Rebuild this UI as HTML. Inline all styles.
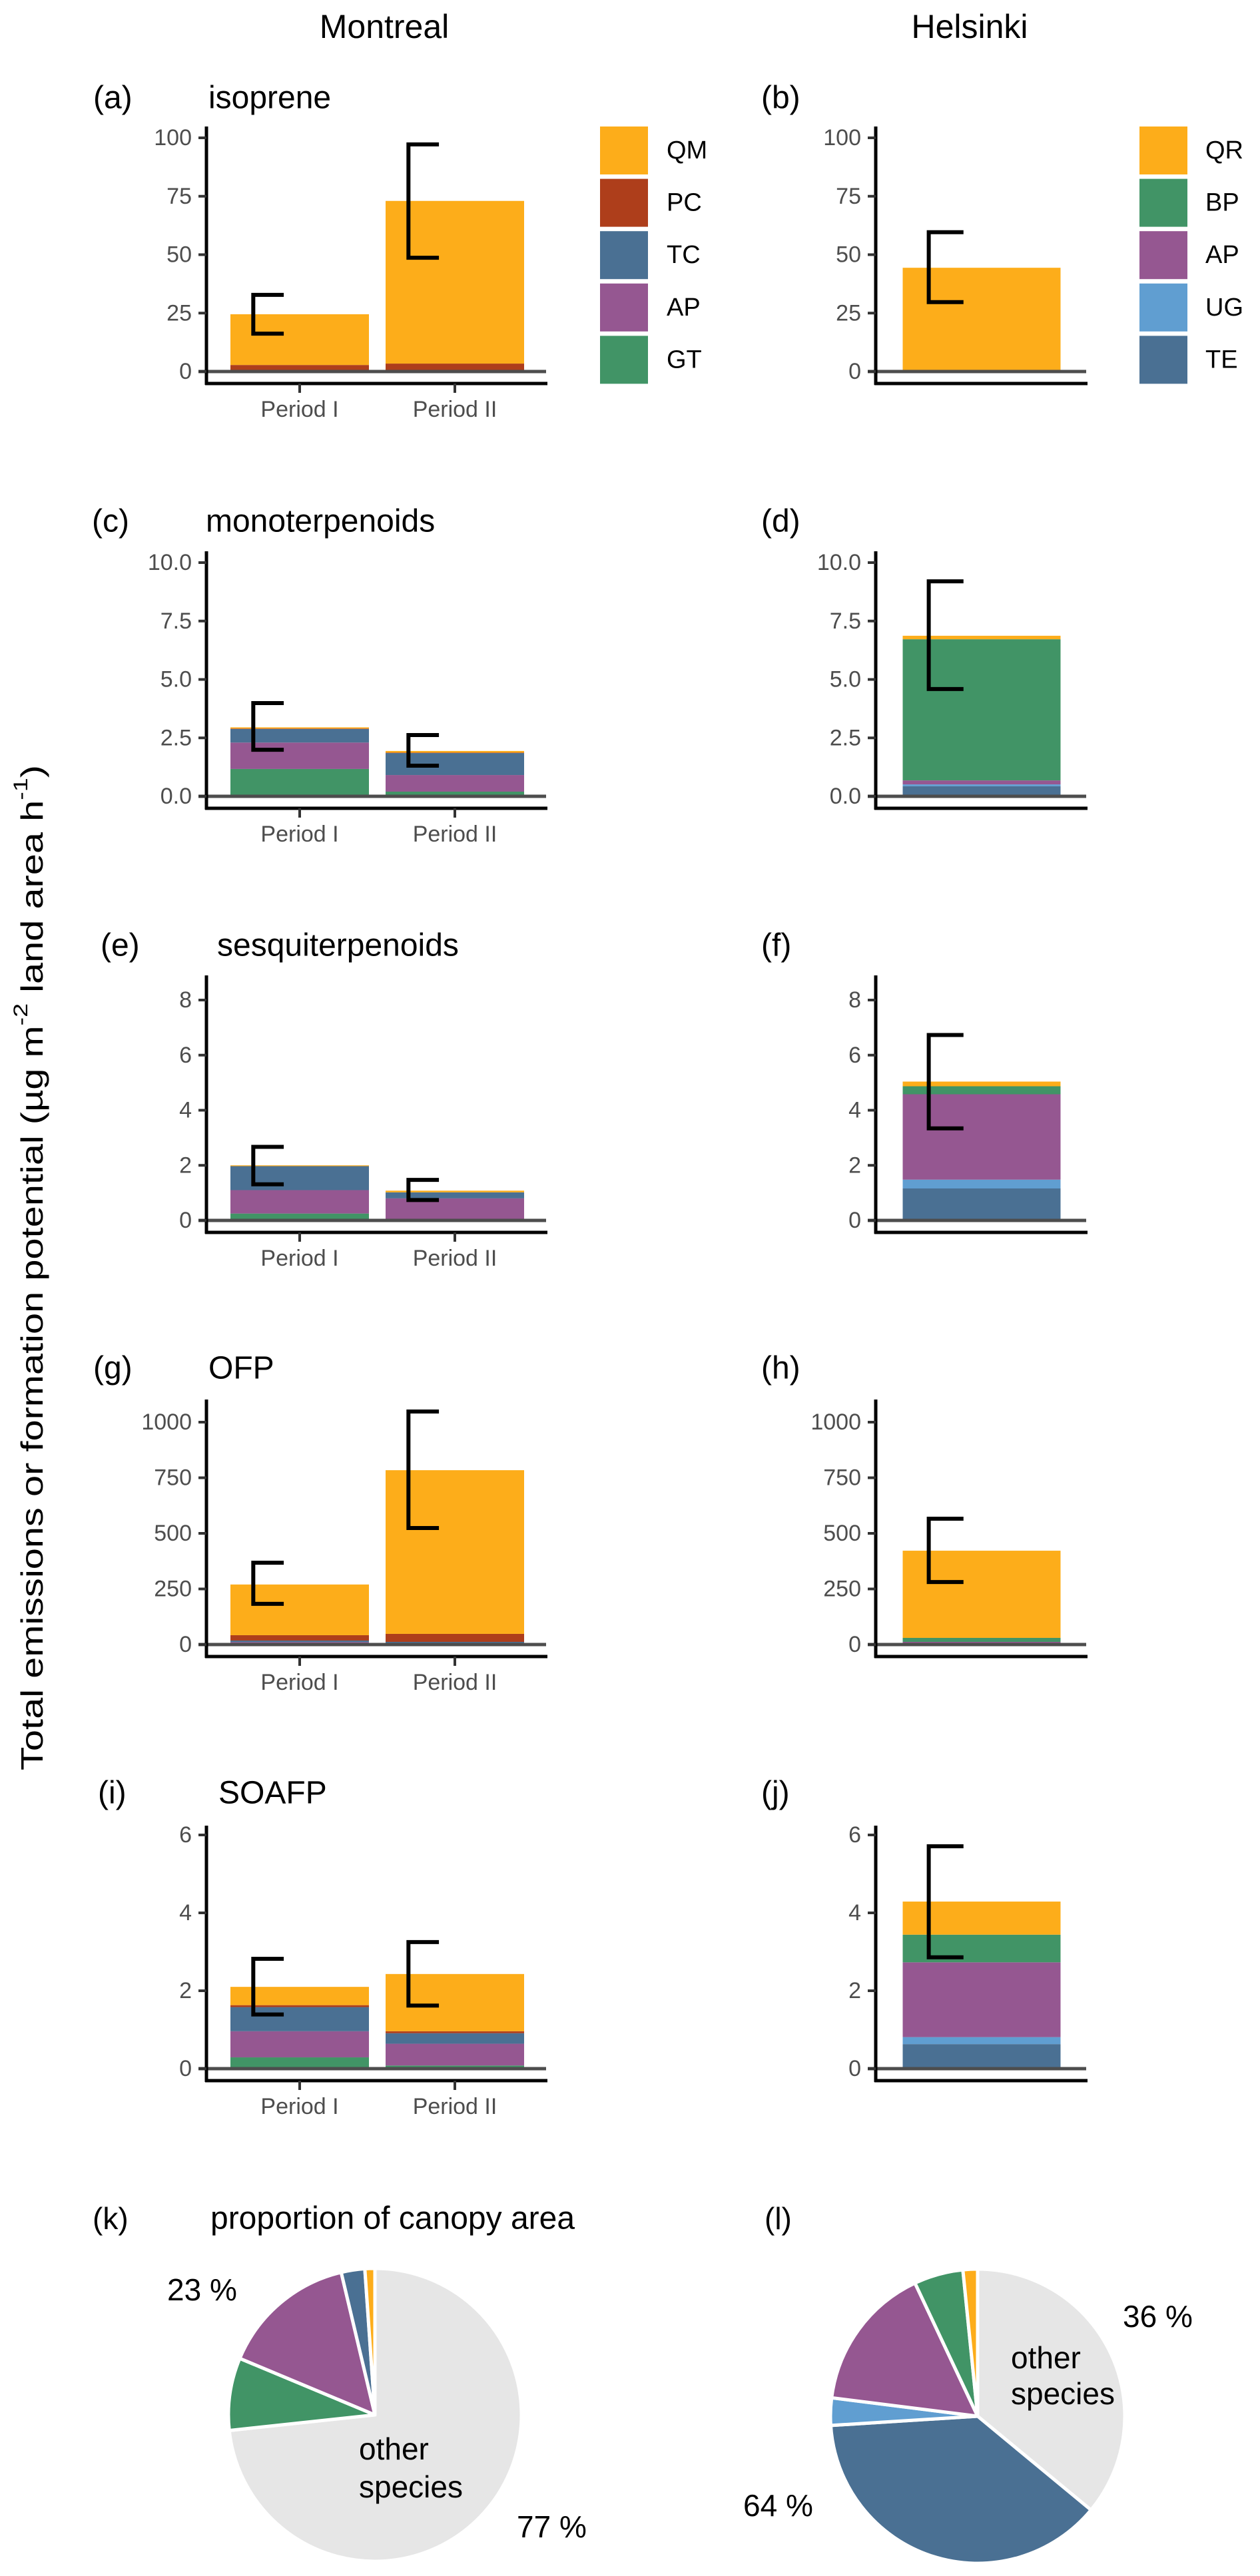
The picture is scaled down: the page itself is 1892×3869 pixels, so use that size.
<!DOCTYPE html>
<html><head><meta charset="utf-8"><title>BVOC emissions</title>
<style>html,body{margin:0;padding:0;background:#fff}svg{display:block}text{font-family:"Liberation Sans",Arial,sans-serif}</style>
</head><body>
<svg id="fig" xmlns="http://www.w3.org/2000/svg" width="1892" height="3869" viewBox="0 0 1892 3869">
<rect width="1892" height="3869" fill="#fff"/>
<text x="577" y="40" font-size="50" text-anchor="middle" dominant-baseline="central">Montreal</text>
<text x="1456" y="40" font-size="50" text-anchor="middle" dominant-baseline="central">Helsinki</text>
<text transform="translate(48,1904) rotate(-90)" font-size="46" text-anchor="middle" dominant-baseline="central" textLength="1510" lengthAdjust="spacingAndGlyphs">Total emissions or formation potential (µg m<tspan baseline-shift="super" font-size="30">-2</tspan> land area h<tspan baseline-shift="super" font-size="30">-1</tspan>)</text>
</svg>
<script>
// ---------- data ----------
const periods = ["Period I", "Period II"];
const mtlSpecies = ["GT", "AP", "TC", "PC", "QM"];          // bottom -> top
const helSpecies = ["TE", "UG", "AP", "BP", "QR"];          // bottom -> top
const mtlLegend = ["QM", "PC", "TC", "AP", "GT"];
const helLegend = ["QR", "BP", "AP", "UG", "TE"];

// Montreal stacked segment values per species [Period I, Period II]
const isopreneMtl = [[0, 0], [0, 0], [0, 0], [2.8, 3.4], [21.7, 69.6]];
const monoMtl = [[1.17, 0.2], [1.13, 0.71], [0.58, 0.94], [0.02, 0.02], [0.05, 0.07]];
const sesqMtl = [[0.25, 0.04], [0.85, 0.76], [0.87, 0.22], [0, 0], [0.03, 0.06]];
const ofpMtl = [[3, 2], [8, 4], [7, 6], [24, 36], [228, 736]];
const soafpMtl = [[0.29, 0.08], [0.67, 0.56], [0.62, 0.27], [0.05, 0.05], [0.47, 1.47]];
// Helsinki stacked segment values per species
const isopreneHel = [0, 0, 0, 0, 44.4];
const monoHel = [0.43, 0.08, 0.17, 6.04, 0.15];
const sesqHel = [1.16, 0.32, 3.1, 0.29, 0.17];
const ofpHel = [3, 2, 7, 18, 392];
const soafpHel = [0.63, 0.18, 1.92, 0.71, 0.85];
// error ranges [low, high]
const isopreneMtlErr = [[16.2, 32.8], [48.7, 97.2]];
const monoMtlErr = [[1.99, 3.99], [1.31, 2.62]];
const sesqMtlErr = [[1.31, 2.67], [0.74, 1.47]];
const ofpMtlErr = [[183, 368], [524, 1048]];
const soafpMtlErr = [[1.39, 2.82], [1.62, 3.25]];
const isopreneHelErr = [29.7, 59.6];
const monoHelErr = [4.59, 9.2];
const sesqHelErr = [3.34, 6.73];
const ofpHelErr = [281, 566];
const soafpHelErr = [2.86, 5.71];
// tick labels
const isopreneTicks = [0, 25, 50, 75, 100];
const monoTicks = ["0.0", "2.5", "5.0", "7.5", "10.0"];
const sesqTicks = [0, 2, 4, 6, 8];
const ofpTicks = [0, 250, 500, 750, 1000];
const soafpTicks = [0, 2, 4, 6];
// pie shares (clockwise from top)
const pieMtlLabels = ["other", "GT", "AP", "TC", "QM"];
const pieMtlValues = [73.3, 8, 15, 2.6, 1.1];
const pieHelLabels = ["other", "TE", "UG", "AP", "BP", "QR"];
const pieHelValues = [36, 38, 3, 16, 5.4, 1.6];

// ---------- styling / layout ----------
const colors = {QM:"#FDAD1A",QR:"#FDAD1A",PC:"#AE3E1B",TC:"#4A7093",TE:"#4A7093",AP:"#955791",GT:"#419466",BP:"#419466",UG:"#609ED1",other:"#E6E6E6"};
const svg = document.getElementById('fig');
const NS = "http://www.w3.org/2000/svg";
function mk(tag, attrs, parent) {
  const e = document.createElementNS(NS, tag);
  for (const k in attrs) e.setAttribute(k, attrs[k]);
  (parent || svg).appendChild(e);
  return e;
}
const rows = [
  {id:"isoprene", title:"isoprene", lm:"(a)", lh:"(b)", labelY:147, axisTop:190, y0:558, tickPx:207, tickMax:100, ticks:isopreneTicks, mtl:isopreneMtl, hel:isopreneHel, me:isopreneMtlErr, he:isopreneHelErr, lx:140, tx:313},
  {id:"monoterpenoids", title:"monoterpenoids", lm:"(c)", lh:"(d)", labelY:783, axisTop:828, y0:1196, tickPx:845, tickMax:10, ticks:monoTicks, mtl:monoMtl, hel:monoHel, me:monoMtlErr, he:monoHelErr, lx:138, tx:309},
  {id:"sesquiterpenoids", title:"sesquiterpenoids", lm:"(e)", lh:"(f)", labelY:1420, axisTop:1465, y0:1833, tickPx:1502, tickMax:8, ticks:sesqTicks, mtl:sesqMtl, hel:sesqHel, me:sesqMtlErr, he:sesqHelErr, lx:151, tx:326},
  {id:"ofp", title:"OFP", lm:"(g)", lh:"(h)", labelY:2055, axisTop:2102, y0:2470, tickPx:2136, tickMax:1000, ticks:ofpTicks, mtl:ofpMtl, hel:ofpHel, me:ofpMtlErr, he:ofpHelErr, lx:140, tx:313},
  {id:"soafp", title:"SOAFP", lm:"(i)", lh:"(j)", labelY:2693, axisTop:2742, y0:3107, tickPx:2756, tickMax:6, ticks:soafpTicks, mtl:soafpMtl, hel:soafpHel, me:soafpMtlErr, he:soafpHelErr, lx:147, tx:328}
];
const mtlAxis = {x0:310, x1:820, centers:[450, 683], bw:208};
const helAxis = {x0:1315, x1:1631, centers:[1474], bw:237};

function drawAxis(g, row, ax, yScale) {
  // zero line
  const z = mk('line', {x1:ax.x0-12, x2:ax.x1, y1:row.y0, y2:row.y0, stroke:"#4d4d4d", "stroke-width":5}, g);
  
  
  const ya = mk('line', {x1:ax.x0, x2:ax.x0, y1:row.axisTop, y2:row.y0+20, stroke:"#000", "stroke-width":5}, g);
  
  
  const xa = mk('line', {x1:ax.x0-2, x2:ax.x1+2, y1:row.y0+18, y2:row.y0+18, stroke:"#000", "stroke-width":5}, g);
  
  
  const n = row.ticks.length;
  row.ticks.forEach((t, i) => {
    const v = row.tickMax * i / (n - 1);
    const y = yScale(v);
    const tk = mk('line', {x1:ax.x0-12, x2:ax.x0, y1:y, y2:y, stroke:"#333", "stroke-width":4}, g);
    
    
    const tl = mk('text', {x:ax.x0-22, y:y, "font-size":34, fill:"#4d4d4d", "text-anchor":"end", "dominant-baseline":"central"}, g);
    tl.textContent = t;
    
    
  });
}
function drawBar(g, segs, species, cx, bw, yScale) {
  let acc = 0;
  segs.forEach((v, k) => {
    if (v <= 0) return;
    const yTop = yScale(acc + v), yBot = yScale(acc);
    const r = mk('rect', {x:cx-bw/2, y:yTop, width:bw, height:Math.max(0, yBot-yTop), fill:colors[species[k]]}, g);
    
    
    acc += v;
  });
}
function drawErr(g, lo, hi, cx, bw, yScale) {
  const xl = cx - bw * 0.335, xr = cx - bw * 0.115;
  const p = mk('path', {d:`M${xr},${yScale(hi)} H${xl} V${yScale(lo)} H${xr}`, fill:"none", stroke:"#000", "stroke-width":6}, g);
  
  
}

rows.forEach((row, ri) => {
  const yScale = v => row.y0 - (row.y0 - row.tickPx) * v / row.tickMax;
  // Montreal panel
  const gm = mk('g', {});
  
  
  const pl = mk('text', {x:row.lx, y:row.labelY, "font-size":48, "dominant-baseline":"central"}, gm);
  pl.textContent = row.lm;
  
  
  const pt = mk('text', {x:row.tx, y:row.labelY, "font-size":48, "dominant-baseline":"central"}, gm);
  pt.textContent = row.title;
  
  
  periods.forEach((p, j) => {
    const cx = mtlAxis.centers[j];
    drawBar(gm, row.mtl.map(s => s[j]), mtlSpecies, cx, mtlAxis.bw, yScale);
  });
  drawAxis(gm, row, mtlAxis, yScale);
  periods.forEach((p, j) => {
    const cx = mtlAxis.centers[j];
    drawErr(gm, row.me[j][0], row.me[j][1], cx, mtlAxis.bw, yScale);
    const xt = mk('line', {x1:cx, x2:cx, y1:row.y0+18, y2:row.y0+32, stroke:"#333", "stroke-width":4}, gm);
    
    
    const xl = mk('text', {x:cx, y:row.y0+57, "font-size":34, fill:"#4d4d4d", "text-anchor":"middle", "dominant-baseline":"central"}, gm);
    xl.textContent = p;
    
    
  });
  // Helsinki panel
  const gh = mk('g', {});
  
  
  const hl = mk('text', {x:1143, y:row.labelY, "font-size":48, "dominant-baseline":"central"}, gh);
  hl.textContent = row.lh;
  
  
  drawBar(gh, row.hel, helSpecies, helAxis.centers[0], helAxis.bw, yScale);
  drawAxis(gh, row, helAxis, yScale);
  drawErr(gh, row.he[0], row.he[1], helAxis.centers[0], helAxis.bw, yScale);
});

// legends
function legend(items, x, lx, name) {
  const g = mk('g', {});
  
  
  items.forEach((s, i) => {
    const y = 190 + i * 78.6;
    const r = mk('rect', {x:x, y:y, width:72, height:72, fill:colors[s]}, g);
    
    
    const t = mk('text', {x:lx, y:y+36, "font-size":38, "dominant-baseline":"central"}, g);
    t.textContent = s;
    
    
  });
}
legend(mtlLegend, 901, 1001, 'montreal-legend');
legend(helLegend, 1711, 1810, 'helsinki-legend');

// pies
function pie(labels, values, cx, cy, r, name) {
  const g = mk('g', {});
  
  
  const tot = values.reduce((a, b) => a + b, 0);
  let a0 = 0;
  labels.forEach((l, i) => {
    const a1 = a0 + values[i] / tot * 2 * Math.PI;
    const x0 = cx + r * Math.sin(a0), y0 = cy - r * Math.cos(a0);
    const x1 = cx + r * Math.sin(a1), y1 = cy - r * Math.cos(a1);
    const large = (a1 - a0) > Math.PI ? 1 : 0;
    const p = mk('path', {d:`M${cx},${cy} L${x0},${y0} A${r},${r} 0 ${large} 1 ${x1},${y1} Z`, fill:colors[l], stroke:"#fff", "stroke-width":5, "stroke-linejoin":"round"}, g);
    
    
    a0 = a1;
  });
  return g;
}
pie(pieMtlLabels, pieMtlValues, 563, 3627, 220, 'montreal-canopy-pie');
pie(pieHelLabels, pieHelValues, 1468, 3629, 221, 'helsinki-canopy-pie');

const pieTexts = [
  ["(k)", 139, 3332, 'panel-label'], ["proportion of canopy area", 316, 3332, 'panel-title'], ["(l)", 1148, 3332, 'panel-label'],
  ["23 %", 251, 3439, 'pie-percent-label'], ["77 %", 776, 3795, 'pie-percent-label'],
  ["other", 539, 3678, 'pie-other-label'], ["species", 539, 3735, 'pie-other-label'],
  ["36 %", 1686, 3479, 'pie-percent-label'], ["other", 1518, 3541, 'pie-other-label'], ["species", 1518, 3595, 'pie-other-label'],
  ["64 %", 1116, 3763, 'pie-percent-label']
];
pieTexts.forEach(t => {
  const e = mk('text', {x:t[1], y:t[2], "font-size":t[0].length > 12 ? 48 : 46, "dominant-baseline":"central"});
  e.textContent = t[0];
  
  
});
</script>
</body></html>
